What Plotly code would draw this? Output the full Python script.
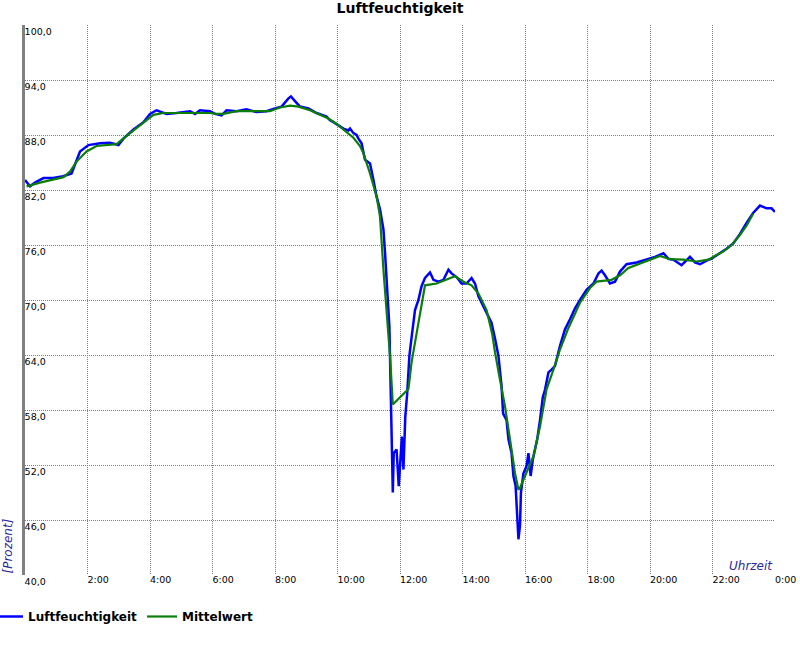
import plotly.graph_objects as go

# ---------------- data ----------------
hum_t = [0.00, 0.16, 0.32, 0.59, 0.90, 1.22, 1.49, 1.60, 1.76, 2.03, 2.40, 2.72, 2.99, 3.15, 3.47,
         3.79, 4.00, 4.21, 4.53, 4.85, 5.17, 5.28, 5.44, 5.60, 5.92, 6.08, 6.29, 6.45, 6.77, 7.09,
         7.41, 7.73, 8.00, 8.21, 8.43, 8.51, 8.64, 8.80, 9.07, 9.33, 9.65, 9.76, 9.87, 10.08, 10.19,
         10.35, 10.40, 10.51, 10.61, 10.67, 10.77, 10.88, 11.04, 11.15, 11.25, 11.36, 11.47, 11.52,
         11.57, 11.62, 11.66, 11.68, 11.71, 11.73, 11.77, 11.80, 11.89, 11.96, 12.03, 12.06, 12.11,
         12.17, 12.23, 12.30, 12.37, 12.48, 12.59, 12.69, 12.80, 12.96, 13.07, 13.23, 13.39, 13.55,
         13.65, 13.81, 13.97, 14.13, 14.29, 14.40, 14.51, 14.67, 14.82, 14.93, 15.04, 15.15, 15.25,
         15.30, 15.41, 15.47, 15.57, 15.63, 15.70, 15.73, 15.79, 15.84, 15.87, 15.95, 16.05, 16.11,
         16.18, 16.25, 16.32, 16.39, 16.48, 16.57, 16.64, 16.75, 16.85, 16.96, 17.12, 17.28, 17.44,
         17.60, 17.76, 17.97, 18.19, 18.35, 18.45, 18.56, 18.72, 18.88, 19.04, 19.25, 19.57, 19.89,
         20.16, 20.43, 20.59, 20.75, 21.01, 21.28, 21.44, 21.60, 21.81, 21.97, 22.24, 22.45, 22.67,
         22.88, 23.09, 23.30, 23.52, 23.73, 23.89, 24.00]
hum_v = [83.1, 82.4, 82.8, 83.3, 83.3, 83.5, 83.8, 84.7, 86.2, 86.9, 87.1, 87.15, 86.9, 87.6, 88.6,
         89.4, 90.3, 90.7, 90.3, 90.4, 90.5, 90.6, 90.3, 90.7, 90.6, 90.3, 90.15, 90.7, 90.6, 90.8,
         90.5, 90.6, 90.9, 91.1, 92.0, 92.2, 91.7, 91.1, 90.9, 90.4, 90.0, 89.6, 89.4, 88.9, 88.7,
         88.5, 88.7, 88.2, 88.0, 87.6, 87.1, 85.3, 84.9, 83.1, 81.3, 79.9, 77.7, 75.2,
         71.8, 69.7, 67.1, 63.9, 59.9, 56.2, 49.0, 53.3, 53.7, 49.7, 54.4, 55.1, 51.5,
         57.3, 59.8, 63.9, 65.9, 68.9, 70.0, 71.5, 72.4, 73.0, 72.2, 72.0, 72.2, 73.3,
         72.9, 72.5, 71.8, 71.8, 72.4, 71.8, 70.4, 69.3, 68.2, 67.5, 65.8, 63.9, 60.6,
         57.6, 56.9, 54.8, 53.3, 50.8, 49.7, 47.2, 43.9, 45.4, 49.0, 51.1, 51.9, 53.3,
         50.8, 52.6, 53.7, 54.8, 56.9, 59.4, 60.2, 62.1, 62.4, 62.8, 65.0, 66.8, 67.9,
         69.1, 70.0, 71.1, 71.8, 72.9, 73.2, 72.7, 71.8, 72.0, 73.1, 73.9, 74.1, 74.4,
         74.7, 75.1, 74.5, 74.4, 73.8, 74.7, 74.1, 73.9, 74.3, 74.5, 75.1, 75.6, 76.2,
         77.2, 78.4, 79.5, 80.3, 80.0, 80.0, 79.6]

avg_t = [0.05, 0.48, 1.23, 1.44, 1.65, 1.97, 2.29, 2.61, 2.93, 3.25, 3.68, 4.11, 4.43, 5.28, 5.92,
         6.13, 6.35, 6.77, 7.84, 8.16, 8.48, 8.75, 9.12, 9.44, 9.71, 9.97, 10.29, 10.51, 10.72,
         10.83, 11.04, 11.25, 11.36, 11.41, 11.47, 11.55, 11.63, 11.68, 11.73, 11.77, 12.27, 12.37,
         12.59, 12.75, 12.80, 13.17, 13.49, 13.76, 14.03, 14.29, 14.51, 14.77, 14.95, 15.04, 15.20,
         15.36, 15.52, 15.68, 15.79, 15.84, 16.00, 16.27, 16.48, 16.69, 16.91, 17.12, 17.39, 17.76,
         18.08, 18.29, 18.77, 19.04, 19.31, 19.68, 20.00, 20.32, 20.64, 21.07, 21.49, 21.87, 22.13,
         22.35, 22.61, 22.88, 23.09, 23.30]
avg_v = [82.4, 82.8, 83.4, 84.0, 85.1, 86.2, 86.8, 86.9, 87.0, 87.9, 89.1, 90.2, 90.4, 90.4, 90.4,
         90.3, 90.3, 90.6, 90.6, 91.0, 91.2, 91.1, 90.7, 90.2, 89.8, 89.2, 88.3, 87.7, 86.8,
         86.0, 83.8, 81.3, 79.1, 76.2, 73.3, 69.7, 66.4, 63.9, 61.0, 58.6, 60.3, 63.2,
         67.5, 70.7, 71.6, 71.8, 72.2, 72.6, 72.0, 71.6, 70.7, 68.9, 66.3, 64.3, 61.3,
         58.4, 54.8, 51.1, 49.3, 49.5, 50.8, 52.95, 56.2, 60.25, 62.4, 64.6, 66.95, 69.7,
         71.3, 72.0, 72.2, 72.7, 73.5, 74.0, 74.4, 74.8, 74.45, 74.4, 74.2, 74.4, 74.9,
         75.3, 76.0, 77.1, 78.1, 79.4]

x_tick_vals = [2, 4, 6, 8, 10, 12, 14, 16, 18, 20, 22, 24]
x_tick_text = ["2:00", "4:00", "6:00", "8:00", "10:00", "12:00", "14:00", "16:00",
               "18:00", "20:00", "22:00", "0:00"]
y_tick_vals = [40, 46, 52, 58, 64, 70, 76, 82, 88, 94, 100]
y_tick_text = ["40,0", "46,0", "52,0", "58,0", "64,0", "70,0", "76,0", "82,0", "88,0",
               "94,0", "100,0"]

FONT = "DejaVu Sans"
AXIS_TITLE_COLOR = "#2a2aa0"

fig = go.Figure()
fig.add_trace(go.Scatter(x=hum_t, y=hum_v, mode="lines", name="Luftfeuchtigkeit",
                         line=dict(color="#0000ff", width=2.5)))
fig.add_trace(go.Scatter(x=avg_t, y=avg_v, mode="lines", name="Mittelwert",
                         line=dict(color="#0a7d0a", width=2.2)))

grid = dict(showgrid=True, gridcolor="#808080", griddash="1px,1px", gridwidth=1,
            zeroline=False, ticks="", fixedrange=True, automargin=False)

fig.update_layout(
    template="none",
    width=800, height=650,
    margin=dict(l=25, r=25, t=25, b=74.5, pad=0, autoexpand=False),
    paper_bgcolor="white", plot_bgcolor="white",
    font=dict(family=FONT, color="black", size=9.5),
    title=dict(text="<b>Luftfeuchtigkeit</b>", x=0.5, xref="paper", xanchor="center",
               y=1 - 8.5 / 650, yref="container", yanchor="middle",
               font=dict(family=FONT, size=14, color="black")),
    xaxis=dict(range=[0, 24], tickvals=x_tick_vals, ticktext=x_tick_text,
               ticklabelposition="outside right", ticklabeloverflow="allow",
               ticklabelstandoff=-3,
               showline=False, tickfont=dict(size=9.5, color="black"), **grid),
    yaxis=dict(range=[40, 100], tickvals=y_tick_vals, ticktext=y_tick_text,
               ticklabelposition="inside bottom", ticklabeloverflow="allow",
               ticklabelstandoff=-3,
               showline=True, linecolor="#808080", linewidth=3,
               tickfont=dict(size=9.5, color="black"), **grid),
    showlegend=True,
    legend=dict(orientation="h", xref="paper", x=(-12 - 25) / 750, xanchor="left",
                yref="container", y=(650 - 616.5) / 650, yanchor="middle",
                font=dict(family=FONT, size=12, color="black", weight="bold"),
                bgcolor="rgba(0,0,0,0)", borderwidth=0, itemclick=False,
                itemdoubleclick=False),
    annotations=[
        dict(text="[Prozent]", xref="paper", yref="paper", x=(8 - 25) / 750,
             y=(575.5 - 547) / 550.5, xanchor="center", yanchor="middle", textangle=-90,
             showarrow=False,
             font=dict(family=FONT, size=12, color=AXIS_TITLE_COLOR, style="italic")),
        dict(text="Uhrzeit", xref="x", yref="y", x=24, y=40, xanchor="right",
             yanchor="bottom", yshift=0, showarrow=False,
             font=dict(family=FONT, size=12, color=AXIS_TITLE_COLOR, style="italic")),
    ],
)

fig.write_html("out.html", config={"displayModeBar": False},
               post_script="document.body.style.margin='0px';")
